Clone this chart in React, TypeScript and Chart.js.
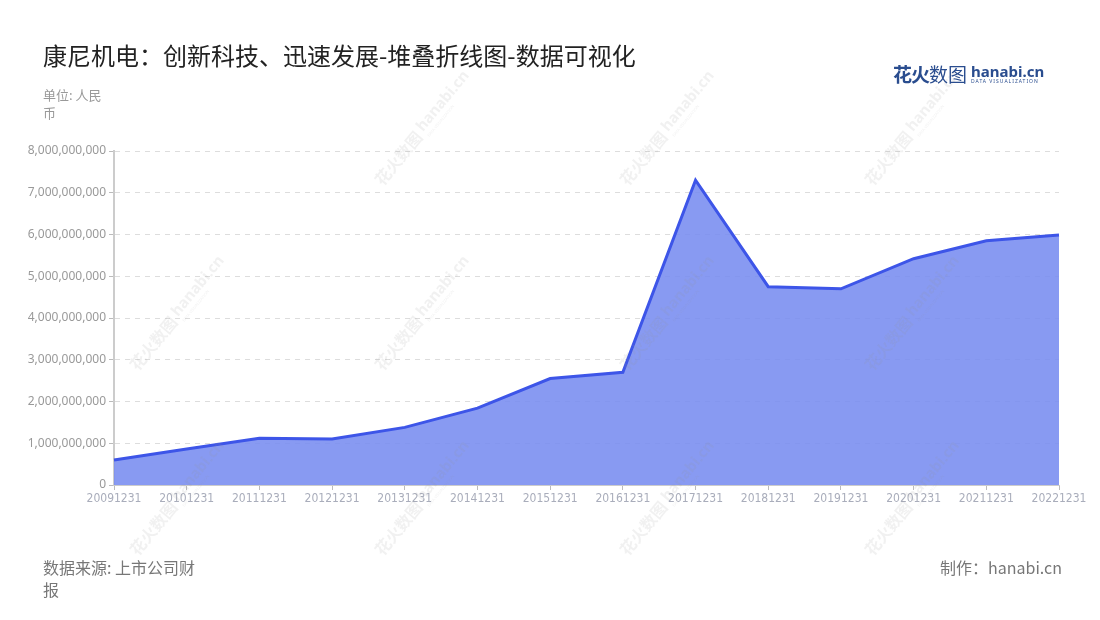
import React, { useEffect, useRef } from "react";
import { Chart, registerables } from "chart.js";

Chart.register(...registerables);

const categories = [
  "20091231", "20101231", "20111231", "20121231", "20131231", "20141231", "20151231",
  "20161231", "20171231", "20181231", "20191231", "20201231", "20211231", "20221231",
];
const revenue = [
  600000000, 860000000, 1120000000, 1100000000, 1380000000, 1840000000, 2550000000,
  2700000000, 7300000000, 4750000000, 4700000000, 5420000000, 5850000000, 5990000000,
];
const yTicks = [0, 1e9, 2e9, 3e9, 4e9, 5e9, 6e9, 7e9, 8e9];

const watermarkSpots = [
  [378, 183], [623, 183], [868, 183],
  [133, 368], [378, 368], [623, 368], [868, 368],
  [133, 553], [378, 553], [623, 553], [868, 553],
];

const watermarkPlugin = {
  id: "watermark",
  afterDatasetsDraw(chart: any) {
    const ctx = chart.ctx;
    ctx.save();
    for (const [x, y] of watermarkSpots) {
      ctx.save();
      ctx.translate(x, y);
      ctx.rotate(-Math.PI * 0.28);
      ctx.fillStyle = "rgba(150,150,150,0.13)";
      ctx.font = "bold 16px 'Noto Sans CJK SC'";
      ctx.textBaseline = "middle";
      ctx.fillText("花火数图", 0, 0);
      ctx.font = "bold 15px 'Noto Sans'";
      ctx.fillText("hanabi.cn", 68, -2);
      ctx.font = "4px 'Noto Sans'";
      ctx.fillText("DATA VISUALIZATION", 68, 9);
      ctx.restore();
    }
    ctx.restore();
  },
};

export default function App() {
  const ref = useRef<HTMLCanvasElement>(null);
  useEffect(() => {
    if (!ref.current) return;
    const chart = new Chart(ref.current, {
      type: "line",
      data: {
        labels: categories,
        datasets: [
          {
            label: "营业收入",
            data: revenue,
            borderColor: "#3d55e8",
            backgroundColor: "rgba(120,140,240,0.88)",
            borderWidth: 3,
            fill: "origin",
            pointRadius: 0,
            tension: 0,
          },
        ],
      },
      options: {
        responsive: false,
        animation: false,
        layout: { padding: { left: 0, right: 41, top: 151, bottom: 111 } },
        plugins: { legend: { display: false }, tooltip: { enabled: false } },
        scales: {
          x: {
            offset: false,
            grid: { display: true, drawOnChartArea: false, drawTicks: true, tickLength: 5, tickColor: "#bbb" },
            border: { color: "#ccc", width: 1 },
            ticks: {
              autoSkip: false,
              maxRotation: 0,
              color: "#a9adbb",
              padding: 2,
              font: { size: 12, family: "'Liberation Sans Narrow', 'DejaVu Sans Condensed', sans-serif" },
            },
            afterFit: (s: any) => { s.height = 24; },
          },
          y: {
            min: 0,
            max: 8e9,
            afterBuildTicks: (s: any) => { s.ticks = yTicks.map((v) => ({ value: v })); },
            grid: { color: "#ddd", tickColor: "#bbb", tickLength: 5, drawTicks: true, tickBorderDash: [] },
            border: { color: "#ccc", width: 2, dash: [5, 5] },
            ticks: {
              color: "#999",
              padding: 3,
              font: { size: 12, family: "'Noto Sans', sans-serif" },
              callback: (v: any) => Number(v).toLocaleString("en-US"),
            },
            afterFit: (s: any) => { s.width = 114; },
          },
        },
      },
      plugins: [watermarkPlugin],
    });
    return () => chart.destroy();
  }, []);

  const font = "'Noto Sans CJK SC', 'Noto Sans', sans-serif";
  return (
    <div style={{ position: "absolute", left: 0, top: 0, width: 1100, height: 620, background: "#fff", fontFamily: font }}>
      <canvas ref={ref} width={1100} height={620} style={{ position: "absolute", left: 0, top: 0 }} />
      <div style={{ position: "absolute", left: 43, top: 37, fontSize: 24, color: "#222", whiteSpace: "nowrap" }}>
        康尼机电：创新科技、迅速发展-堆叠折线图-数据可视化
      </div>
      <div style={{ position: "absolute", left: 43, top: 86, width: 70, fontSize: 13, lineHeight: "18px", color: "#999" }}>
        单位: 人民币
      </div>
      <div style={{ position: "absolute", left: 893, top: 60, display: "flex", alignItems: "center" }}>
        <span style={{ fontSize: 19, fontWeight: 700, color: "#2a4d8f", letterSpacing: -1 }}>花火</span>
        <span style={{ fontSize: 19, color: "#2a4d8f" }}>数图</span>
        <span style={{ marginLeft: 4, display: "flex", flexDirection: "column", lineHeight: 1 }}>
          <span style={{ fontSize: 15, fontWeight: 700, color: "#2a4d8f", fontFamily: "'Noto Sans'" }}>hanabi.cn</span>
          <span style={{ fontSize: 5, color: "#2a4d8f", letterSpacing: 1, fontFamily: "'Noto Sans'" }}>DATA VISUALIZATION</span>
        </span>
      </div>
      <div style={{ position: "absolute", left: 43, top: 556, width: 162, fontSize: 16, lineHeight: "22px", color: "#777" }}>
        数据来源: 上市公司财报
      </div>
      <div style={{ position: "absolute", right: 38, top: 556, fontSize: 16, lineHeight: "22px", color: "#777", whiteSpace: "nowrap" }}>
        制作：hanabi.cn
      </div>
    </div>
  );
}
